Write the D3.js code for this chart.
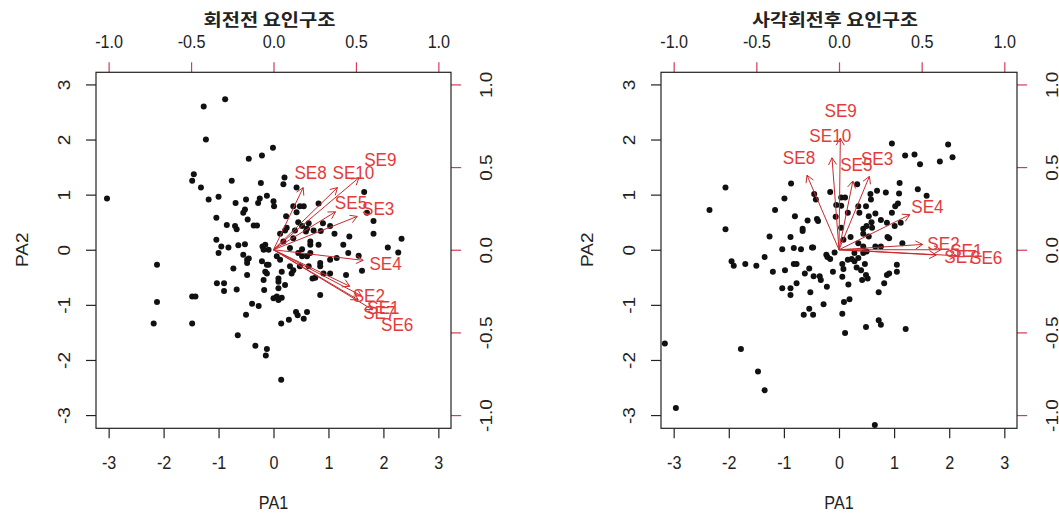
<!DOCTYPE html>
<html>
<head>
<meta charset="utf-8">
<script src="https://cdn.jsdelivr.net/npm/d3@7"></script>
<style>
  body { margin: 0; background: #fff; }
  svg { display: block; }
</style>
</head>
<body>
<div id="biplots"></div>
<script>
// panel titles
const titles = ["회전전 요인구조", "사각회전후 요인구조"];

// tick labels
const scoreTicks = [-3, -2, -1, 0, 1, 2, 3];
const loadTicks = [-1, -0.5, 0, 0.5, 1];

// item names
const items = ["SE1", "SE2", "SE3", "SE4", "SE5", "SE6", "SE7", "SE8", "SE9", "SE10"];

// loadings before rotation
const unrotPA1 = [0.667, 0.578, 0.635, 0.68, 0.47, 0.75, 0.642, 0.225, 0.648, 0.485];
const unrotPA2 = [-0.348, -0.276, 0.252, -0.08, 0.287, -0.453, -0.378, 0.47, 0.545, 0.47];

// loadings after oblique rotation
const rotPA1 = [0.77, 0.632, 0.23, 0.535, 0.105, 0.89, 0.735, -0.242, 0.01, -0.053];
const rotPA2 = [0.0, 0.04, 0.555, 0.265, 0.52, -0.045, -0.04, 0.563, 0.843, 0.695];

// factor scores before rotation
const unrotS1 = [-3.03,-1.27,-0.88,-1.23,-0.01,-0.45,-0.21,-1.45,-1.48,-1.32,-0.76,0.20,0.18,-0.23,-1.18,-1.00,-0.50,-0.69,-0.25,-0.28,
  -0.12,0.00,0.01,0.42,0.48,0.55,0.36,-0.52,-0.55,-0.47,-1.04,0.23,0.42,0.82,-0.85,-0.70,-0.67,-0.36,-0.30,0.45,
  0.64,0.90,1.03,0.12,0.21,0.39,0.59,0.73,0.86,1.11,1.38,1.65,1.70,1.82,1.82,2.33,2.08,2.27,-1.04,-0.95,
  -1.00,-0.82,-0.64,-0.52,-0.55,-0.48,-0.45,-0.48,-0.73,-0.20,-0.15,-0.18,-0.09,0.06,0.18,0.30,0.52,0.67,0.67,0.82,
  0.52,0.61,0.67,0.45,0.12,0.85,1.03,1.15,1.36,1.27,1.55,1.61,1.32,1.03,0.91,0.76,0.71,0.85,-0.12,-0.15,
  -0.18,-0.17,-0.12,0.09,0.09,0.15,0.21,0.09,0.06,0.00,0.09,0.15,0.33,0.36,-0.48,-0.67,-0.90,-0.90,-1.03,-0.39,
  -0.27,-0.50,0.14,0.28,0.41,0.44,0.55,0.61,-0.65,-0.33,-0.12,-0.14,0.14,-2.12,-2.12,-2.18,-1.48,-1.42,-1.48,0.24,
  0.36,0.52,0.61,-0.21,-0.09,0.85,0.30,0.48,0.64];
const unrotS2 = [0.93,2.60,2.73,2.00,1.85,1.65,1.71,1.37,1.25,1.13,1.25,1.31,1.19,1.21,0.91,0.96,0.91,0.85,0.93,0.85,
  0.98,0.88,0.79,1.13,0.79,0.79,0.79,0.73,0.67,0.55,0.58,0.61,0.68,0.84,0.45,0.43,0.37,0.44,0.44,0.50,
  0.48,0.48,0.43,0.29,0.35,0.35,0.33,0.35,0.34,0.29,0.24,1.05,0.67,0.52,0.29,0.20,0.04,-0.05,0.18,0.06,
  -0.06,0.04,0.08,0.10,-0.09,-0.18,-0.16,-0.24,-0.34,0.06,0.09,0.00,0.00,-0.12,0.15,0.03,0.01,0.15,0.09,0.09,
  -0.12,-0.12,-0.06,-0.06,-0.18,-0.24,-0.18,-0.15,-0.06,0.09,-0.11,-0.38,-0.46,-0.43,-0.43,-0.51,-0.52,-0.82,-0.27,-0.40,
  -0.55,-0.73,-0.43,-0.52,-0.58,-0.40,-0.64,-0.70,-0.85,-0.88,-0.91,-0.87,-0.43,-0.37,-0.46,-0.72,-0.61,-0.75,-0.61,-0.98,
  -1.02,-1.18,-1.34,-1.27,-1.13,-1.19,-1.25,-1.13,-1.55,-1.74,-1.80,-1.92,-2.36,-0.27,-0.95,-1.34,-0.85,-0.85,-1.34,0.40,
  0.21,0.43,0.38,-0.21,-0.27,-0.30,-0.30,-0.30,-0.30];

// factor scores after rotation
const rotS1 = [-3.16,-2.96,-2.35,-2.06,-2.06,-1.95,-1.91,-1.70,-1.50,-1.78,-1.47,-1.35,-1.35,-1.26,-1.20,-1.16,-1.03,-0.99,-0.98,-1.03,
  -0.87,-0.88,-0.88,-0.88,-0.82,-0.80,-0.82,-0.77,-0.77,-0.69,-0.66,-0.66,-0.57,-0.62,-0.54,-0.52,-0.54,-0.47,-0.64,-0.49,
  -0.47,-0.46,-0.45,-0.42,-0.40,-0.38,-0.35,-0.33,-0.28,-0.22,-0.23,-0.21,-0.16,-0.16,-0.11,-0.08,-0.06,-0.05,0.04,0.04,
  0.11,0.04,0.08,0.06,0.08,0.06,0.09,0.06,0.11,0.16,0.21,0.19,0.17,0.23,0.28,0.32,0.33,0.35,0.37,0.35,
  0.40,0.42,0.44,0.44,0.44,0.47,0.49,0.52,0.49,0.49,0.50,0.54,0.57,0.58,0.59,0.60,0.66,0.69,0.72,0.72,
  0.76,0.76,0.82,0.85,0.87,0.88,0.91,0.87,0.91,0.96,0.96,1.01,1.02,1.07,1.09,1.10,1.12,1.05,1.05,1.15,
  1.20,1.21,1.37,1.43,1.47,1.59,1.83,1.98,2.06,0.65,0.35,0.44,0.54,0.66,0.76,0.16,0.28,0.50];
const rotS2 = [-1.70,-2.87,0.72,1.13,0.37,-0.21,-0.29,-0.26,-0.29,-1.80,-2.21,-2.55,-0.13,0.24,-0.40,0.72,0.01,0.93,-0.37,-0.70,
  1.20,0.23,-0.70,-0.82,0.03,0.61,-0.26,-0.26,-0.61,0.01,0.38,0.34,0.53,-0.43,-0.34,-0.77,-1.07,-1.18,-1.18,0.04,
  0.04,-0.48,1.01,0.91,0.56,0.52,-0.48,-0.55,-0.99,-0.67,-0.09,-0.13,-0.17,1.05,-0.40,-0.05,0.60,0.81,0.80,0.95,
  0.95,0.40,0.18,-0.26,-0.35,-0.49,-0.95,-1.16,-1.51,0.67,0.23,-0.90,-0.63,-0.17,-0.21,-0.32,1.19,0.79,0.67,0.12,
  -0.37,-0.55,0.29,0.38,-0.06,-0.26,-0.46,-0.52,-1.40,0.79,0.43,0.61,1.01,0.91,0.50,0.40,0.66,1.07,-0.77,-1.28,
  -1.36,0.54,-0.61,1.04,0.49,0.23,0.21,-0.46,-0.43,0.67,1.93,0.43,0.79,0.84,1.02,1.21,0.49,-0.27,-0.40,0.12,
  1.71,-1.44,1.73,1.10,1.55,0.98,1.60,1.91,1.68,-3.18,-0.15,0.06,0.24,0.06,0.06,-0.18,-0.06,-0.03];

const width = 1059, height = 515;
const plotTop = 72.3, plotBottom = 428.3;
const arrowShrink = 0.8;   // arrows drawn at 0.8 of the loading, labels at the loading
const ratio = 3;           // score axis / loading axis
const squeeze = 0.85;      // text is horizontally narrow in the reference
const red = "#d63a55";
const font = "'Liberation Sans', Arial, sans-serif";

// R prints a plain hyphen for negatives
const fmtInt = d => String(d);
const fmtOne = d => d.toFixed(1);

const panels = [
  {left: 96, right: 451, title: titles[0], tLen: 132, s1: unrotS1, s2: unrotS2, l1: unrotPA1, l2: unrotPA2},
  {left: 661, right: 1017, title: titles[1], tLen: 166, s1: rotS1, s2: rotS2, l1: rotPA1, l2: rotPA2}
];

const svg = d3.select("#biplots")
  .append("svg")
    .attr("width", width)
    .attr("height", height);

panels.forEach(p => drawPanel(p));

function drawPanel(p) {
  const g = svg.append("g");

  const x = d3.scaleLinear().domain([-3.23, 3.23]).range([p.left, p.right]);
  const y = d3.scaleLinear().domain([-3.24, 3.22]).range([plotBottom, plotTop]);
  const lx = d3.scaleLinear().domain(x.domain().map(v => v / ratio)).range([p.left, p.right]);
  const ly = d3.scaleLinear().domain(y.domain().map(v => v / ratio)).range([plotBottom, plotTop]);

  // bottom axis (scores)
  const bx = g.append("g")
    .attr("transform", `translate(0,${plotBottom})`)
    .call(d3.axisBottom(x).tickValues(scoreTicks).tickSize(10).tickFormat(fmtInt));
  styleAxis(bx, "#222");
  bx.selectAll("text").attr("y", 40.5).attr("dy", 0);

  // left axis (scores)
  const ax = g.append("g")
    .attr("transform", `translate(${p.left},0)`)
    .call(d3.axisLeft(y).tickValues(scoreTicks).tickSize(10).tickFormat(fmtInt));
  styleAxis(ax, "#222");
  ax.selectAll("text")
    .attr("x", 0).attr("y", 0).attr("dy", 0)
    .attr("text-anchor", "middle")
    .attr("transform", `translate(-26,0) scale(${squeeze},1) rotate(-90)`);

  // top axis (loadings)
  const tx = g.append("g")
    .attr("transform", `translate(0,${plotTop})`)
    .call(d3.axisTop(lx).tickValues(loadTicks).tickSize(10).tickFormat(fmtOne));
  styleAxis(tx, red);
  tx.selectAll("text").attr("y", -24).attr("dy", 0);

  // right axis (loadings)
  const rx = g.append("g")
    .attr("transform", `translate(${p.right},0)`)
    .call(d3.axisRight(ly).tickValues(loadTicks).tickSize(10).tickFormat(fmtOne));
  styleAxis(rx, red);
  rx.selectAll("text")
    .attr("x", 0).attr("y", 0).attr("dy", 0)
    .attr("text-anchor", "middle")
    .attr("transform", `translate(41,0) scale(${squeeze},1) rotate(-90)`);

  // plot box
  g.append("rect")
    .attr("x", p.left).attr("y", plotTop)
    .attr("width", p.right - p.left).attr("height", plotBottom - plotTop)
    .attr("fill", "none").attr("stroke", "#222").attr("stroke-width", 1.2);

  // scores
  g.append("g")
    .selectAll("circle")
    .data(d3.range(p.s1.length))
    .join("circle")
      .attr("cx", i => x(p.s1[i]))
      .attr("cy", i => y(p.s2[i]))
      .attr("r", 3)
      .attr("fill", "#111");

  // loading arrows
  const head = 8, ang = Math.PI / 6;
  const arrows = g.append("g")
    .attr("stroke", "#c62a2e").attr("stroke-width", 1).attr("fill", "none");
  items.forEach((name, i) => {
    const x0 = lx(0), y0 = ly(0);
    const x1 = lx(p.l1[i] * arrowShrink), y1 = ly(p.l2[i] * arrowShrink);
    const a = Math.atan2(y1 - y0, x1 - x0);
    arrows.append("line")
      .attr("x1", x0).attr("y1", y0).attr("x2", x1).attr("y2", y1);
    arrows.append("path")
      .attr("d", `M${x1 - head * Math.cos(a - ang)},${y1 - head * Math.sin(a - ang)}L${x1},${y1}L${x1 - head * Math.cos(a + ang)},${y1 - head * Math.sin(a + ang)}`);
  });

  // loading labels
  g.append("g")
    .selectAll("text")
    .data(items)
    .join("text")
      .attr("transform", (d, i) => `translate(${lx(p.l1[i])},${ly(p.l2[i])}) scale(0.9,1)`)
      .attr("dy", "0.36em")
      .attr("text-anchor", "middle")
      .attr("font-family", font)
      .attr("font-size", 19)
      .attr("fill", "#e43a3a")
      .text(d => d);

  // title
  g.append("text")
    .attr("x", (p.left + p.right) / 2 - 4)
    .attr("y", 26)
    .attr("text-anchor", "middle")
    .attr("font-family", "'Noto Sans CJK KR', sans-serif")
    .attr("font-weight", "bold")
    .attr("font-size", 17)
    .attr("fill", "#222")
    .attr("textLength", p.tLen)
    .attr("lengthAdjust", "spacingAndGlyphs")
    .text(p.title);

  // axis titles
  const mid = (p.left + p.right) / 2;
  g.append("text")
    .attr("transform", `translate(${mid},509) scale(${squeeze},1)`)
    .attr("text-anchor", "middle")
    .attr("font-family", font).attr("font-size", 19).attr("fill", "#222")
    .text("PA1");
  g.append("text")
    .attr("transform", `translate(${p.left - 68},${y(0)}) scale(${squeeze},1) rotate(-90)`)
    .attr("text-anchor", "middle")
    .attr("font-family", font).attr("font-size", 19).attr("fill", "#222")
    .text("PA2");
}

function styleAxis(sel, tickColor) {
  sel.select(".domain").remove();
  sel.selectAll(".tick line").attr("stroke", tickColor).attr("stroke-width", 1.2);
  sel.selectAll(".tick text")
    .attr("fill", "#222")
    .attr("font-family", font)
    .attr("font-size", 19)
    .attr("transform", `scale(${squeeze},1)`);
}
</script>
</body>
</html>
